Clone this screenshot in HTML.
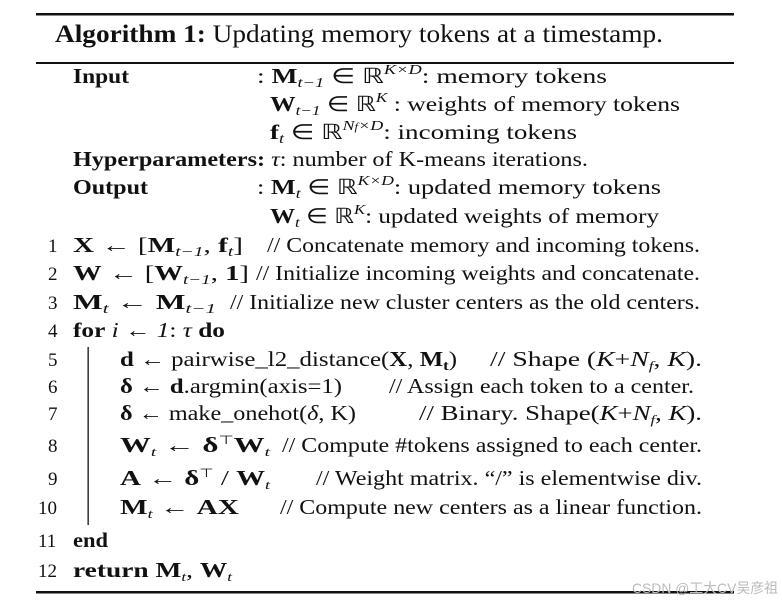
<!DOCTYPE html>
<html><head><meta charset="utf-8"><style>
html,body{margin:0;padding:0;background:#fff;}
svg{display:block;}
text{font-family:"Liberation Serif",serif;fill:#111;}
.b{font-weight:bold;}
.i{font-style:italic;}
</style></head><body>
<svg width="782" height="603" viewBox="0 0 782 603" xmlns="http://www.w3.org/2000/svg">
<rect x="36" y="13" width="698" height="2.5" fill="#111"/>
<rect x="36" y="62" width="698" height="2" fill="#111"/>
<rect x="36" y="591" width="698" height="2.5" fill="#111"/>
<rect x="87.5" y="347" width="1.3" height="178" fill="#111"/>

<text x="55" y="42" font-size="25" textLength="608" lengthAdjust="spacingAndGlyphs"><tspan class="b">Algorithm 1:</tspan> Updating memory tokens at a timestamp.</text>

<g font-size="21">
<text x="73" y="83" class="b" textLength="56" lengthAdjust="spacingAndGlyphs">Input</text>
<text x="257" y="83" textLength="350" lengthAdjust="spacingAndGlyphs">: <tspan class="b">M</tspan><tspan class="i" font-size="14" dy="4">t−1</tspan><tspan dy="-4"> ∈ ℝ</tspan><tspan class="i" font-size="14" dy="-9">K×D</tspan><tspan dy="9">: memory tokens</tspan></text>
<text x="270" y="111" textLength="410" lengthAdjust="spacingAndGlyphs"><tspan class="b">W</tspan><tspan class="i" font-size="14" dy="4">t−1</tspan><tspan dy="-4"> ∈ ℝ</tspan><tspan class="i" font-size="14" dy="-9">K</tspan><tspan dy="9"> : weights of memory tokens</tspan></text>
<text x="270" y="139" textLength="307" lengthAdjust="spacingAndGlyphs"><tspan class="b">f</tspan><tspan class="i" font-size="14" dy="4">t</tspan><tspan dy="-4"> ∈ ℝ</tspan><tspan class="i" font-size="14" dy="-9">N<tspan font-size="10">f</tspan>×D</tspan><tspan dy="9">: incoming tokens</tspan></text>
<text x="73" y="166" textLength="515" lengthAdjust="spacingAndGlyphs"><tspan class="b">Hyperparameters:</tspan> <tspan class="i">τ</tspan>: number of K-means iterations.</text>
<text x="73" y="194" class="b" textLength="75" lengthAdjust="spacingAndGlyphs">Output</text>
<text x="257" y="194" textLength="404" lengthAdjust="spacingAndGlyphs">: <tspan class="b">M</tspan><tspan class="i" font-size="14" dy="4">t</tspan><tspan dy="-4"> ∈ ℝ</tspan><tspan class="i" font-size="14" dy="-9">K×D</tspan><tspan dy="9">: updated memory tokens</tspan></text>
<text x="270" y="223" textLength="389" lengthAdjust="spacingAndGlyphs"><tspan class="b">W</tspan><tspan class="i" font-size="14" dy="4">t</tspan><tspan dy="-4"> ∈ ℝ</tspan><tspan class="i" font-size="14" dy="-9">K</tspan><tspan dy="9">: updated weights of memory</tspan></text>

<g font-size="19">
<text x="48" y="252">1</text><text x="48" y="280">2</text><text x="48" y="309">3</text><text x="48" y="337">4</text>
<text x="48" y="366">5</text><text x="48" y="393">6</text><text x="48" y="420">7</text><text x="48" y="452">8</text>
<text x="48" y="485">9</text><text x="38" y="514">10</text><text x="38" y="547">11</text><text x="38" y="577">12</text>
</g>

<text x="73" y="252" textLength="170" lengthAdjust="spacingAndGlyphs"><tspan class="b">X</tspan> ← [<tspan class="b">M</tspan><tspan class="i" font-size="14" dy="4">t−1</tspan><tspan dy="-4">, </tspan><tspan class="b">f</tspan><tspan class="i" font-size="14" dy="4">t</tspan><tspan dy="-4">]</tspan></text>
<text x="267" y="252" textLength="433" lengthAdjust="spacingAndGlyphs">// Concatenate memory and incoming tokens.</text>
<text x="73" y="280" textLength="176" lengthAdjust="spacingAndGlyphs"><tspan class="b">W</tspan> ← [<tspan class="b">W</tspan><tspan class="i" font-size="14" dy="4">t−1</tspan><tspan dy="-4">, </tspan><tspan class="b">1</tspan>]</text>
<text x="256" y="280" textLength="444" lengthAdjust="spacingAndGlyphs">// Initialize incoming weights and concatenate.</text>
<text x="73" y="309" textLength="143" lengthAdjust="spacingAndGlyphs"><tspan class="b">M</tspan><tspan class="i" font-size="14" dy="4">t</tspan><tspan dy="-4"> ← </tspan><tspan class="b">M</tspan><tspan class="i" font-size="14" dy="4">t−1</tspan></text>
<text x="230" y="309" textLength="470" lengthAdjust="spacingAndGlyphs">// Initialize new cluster centers as the old centers.</text>
<text x="73" y="337" textLength="152" lengthAdjust="spacingAndGlyphs"><tspan class="b">for</tspan> <tspan class="i">i</tspan> ← <tspan class="i">1</tspan>: <tspan class="i">τ</tspan> <tspan class="b">do</tspan></text>

<text x="120" y="366" textLength="337" lengthAdjust="spacingAndGlyphs"><tspan class="b">d</tspan> ← pairwise_l2_distance(<tspan class="b">X</tspan>, <tspan class="b">M</tspan><tspan class="b" font-size="14" dy="4">t</tspan><tspan dy="-4">)</tspan></text>
<text x="490" y="366" textLength="212" lengthAdjust="spacingAndGlyphs">// Shape (<tspan class="i">K</tspan>+<tspan class="i">N</tspan><tspan class="i" font-size="13" dy="4">f</tspan><tspan dy="-4">, </tspan><tspan class="i">K</tspan>).</text>
<text x="120" y="393" textLength="222" lengthAdjust="spacingAndGlyphs"><tspan class="b">δ</tspan> ← <tspan class="b">d</tspan>.argmin(axis=1)</text>
<text x="389" y="393" textLength="305" lengthAdjust="spacingAndGlyphs">// Assign each token to a center.</text>
<text x="120" y="420" textLength="236" lengthAdjust="spacingAndGlyphs"><tspan class="b">δ</tspan> ← make_onehot(<tspan class="i">δ</tspan>, K)</text>
<text x="419" y="420" textLength="283" lengthAdjust="spacingAndGlyphs">// Binary. Shape(<tspan class="i">K</tspan>+<tspan class="i">N</tspan><tspan class="i" font-size="13" dy="4">f</tspan><tspan dy="-4">, </tspan><tspan class="i">K</tspan>).</text>
<text x="120" y="452" textLength="150" lengthAdjust="spacingAndGlyphs"><tspan class="b">W</tspan><tspan class="i" font-size="13" dy="4">t</tspan><tspan dy="-4"> ← </tspan><tspan class="b">δ</tspan><tspan font-size="12" dy="-8">⊤</tspan><tspan class="b" dy="8">W</tspan><tspan class="i" font-size="13" dy="4">t</tspan></text>
<text x="282" y="452" textLength="420" lengthAdjust="spacingAndGlyphs">// Compute #tokens assigned to each center.</text>
<text x="120" y="485" textLength="150" lengthAdjust="spacingAndGlyphs"><tspan class="b">A</tspan> ← <tspan class="b">δ</tspan><tspan font-size="12" dy="-8">⊤</tspan><tspan dy="8"> / </tspan><tspan class="b">W</tspan><tspan class="i" font-size="13" dy="4">t</tspan></text>
<text x="316" y="485" textLength="386" lengthAdjust="spacingAndGlyphs">// Weight matrix. “/” is elementwise div.</text>
<text x="120" y="514" textLength="119" lengthAdjust="spacingAndGlyphs"><tspan class="b">M</tspan><tspan class="i" font-size="13" dy="4">t</tspan><tspan dy="-4"> ← </tspan><tspan class="b">AX</tspan></text>
<text x="280" y="514" textLength="422" lengthAdjust="spacingAndGlyphs">// Compute new centers as a linear function.</text>
<text x="73" y="547" class="b" textLength="35" lengthAdjust="spacingAndGlyphs">end</text>
<text x="73" y="577" textLength="159" lengthAdjust="spacingAndGlyphs"><tspan class="b">return</tspan> <tspan class="b">M</tspan><tspan class="i" font-size="13" dy="4">t</tspan><tspan dy="-4">, </tspan><tspan class="b">W</tspan><tspan class="i" font-size="13" dy="4">t</tspan></text>
</g>

<text x="632" y="593" font-size="14" style="font-family:'Liberation Sans','Noto Sans CJK SC',sans-serif;fill:#bbb" textLength="146" lengthAdjust="spacingAndGlyphs">CSDN @工大CV吴彦祖</text>
</svg>
</body></html>
